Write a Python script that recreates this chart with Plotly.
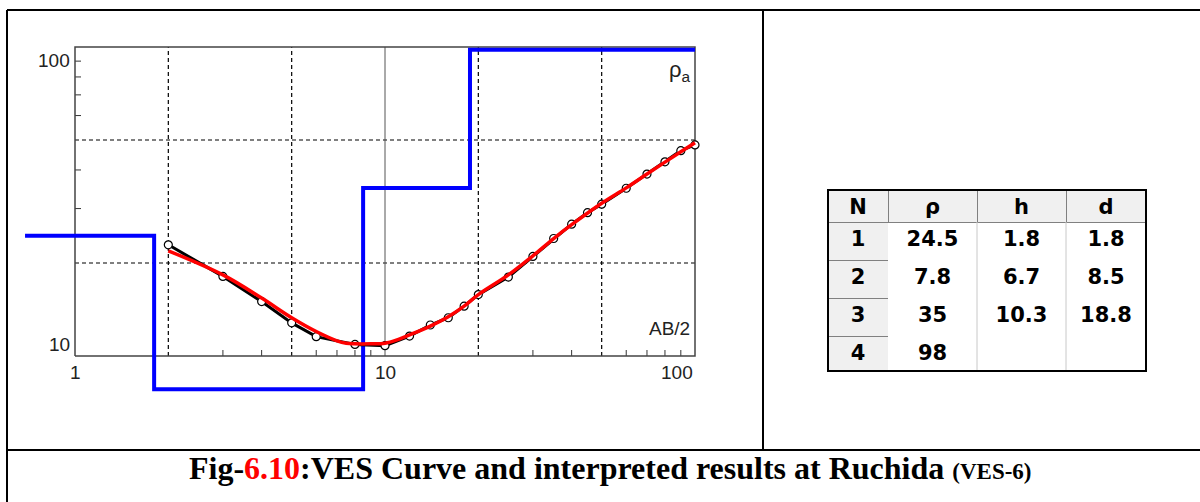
import numpy as np
import plotly.graph_objects as go

# Datos de campo (AB/2 en m, resistividad aparente en ohm.m)
ab2 = [2, 3, 4, 5, 6, 8, 10, 12, 14, 16, 18, 20, 25, 30, 35, 40, 45, 50, 60, 70, 80, 90, 100]
rho_obs = [22.9, 18.1, 15.0, 12.8, 11.55, 10.9, 10.8, 11.6, 12.6, 13.3, 14.5, 15.8, 18.0, 21.0,
           24.0, 26.7, 29.1, 31.0, 34.9, 38.8, 42.5, 46.2, 48.2]

# Curva calculada (roja)
ab2_calc = [2, 3, 4, 5, 6, 7, 7.5, 8, 9, 10, 11, 12, 14, 16, 18, 20, 25, 30, 35, 40, 50, 60, 70, 80, 90, 100]
rho_calc = [21.9, 18.3, 15.4, 13.3, 12.0, 11.2, 11.0, 10.95, 10.95, 11.0, 11.3, 11.7, 12.5, 13.4,
            14.5, 15.8, 18.3, 21.1, 24.0, 26.6, 31.2, 35.0, 38.8, 42.4, 45.8, 49.0]

# Modelo interpretado
capa_n = ["1", "2", "3", "4"]
capa_rho = ["24.5", "7.8", "35", "98"]
capa_h = ["1.8", "6.7", "10.3", ""]
capa_d = ["1.8", "8.5", "18.8", ""]
modelo_x = [0.69, 1.8, 8.5, 18.8, 100]
modelo_rho = [24.5, 7.8, 35, 98, 98]

# rejilla y marcas
grid_x = [2, 5, 20, 50]
grid_y = [20, 50]
ticks_x = [3, 4, 6, 7, 8, 9, 30, 40, 60, 70, 80, 90]
ticks_y = [30, 40, 60, 70, 80, 90]

W, H = 1200, 502
# escala: 310 px por década en x, 309 px en y
xr = [-75 / 310, (W - 75) / 310]
yr = [1 - (H - 356) / 309, 2 + 47 / 309]
tx_len = 10 ** (6 / 309)   # 6 px en escala log
ty_len = 10 ** (6 / 310)


def segmentos(pares):
    xs, ys = [], []
    for (x0, y0), (x1, y1) in pares:
        xs += [x0, x1, None]
        ys += [y0, y1, None]
    return xs, ys


fig = go.Figure()

# rejilla punteada
gx, gy = segmentos([((v, 10), (v, 100)) for v in grid_x] + [((1, v), (100, v)) for v in grid_y])
fig.add_trace(go.Scatter(x=gx, y=gy, mode='lines', hoverinfo='skip',
                         line=dict(color='black', width=1.2, dash='4px,3px')))
# linea de la década 10
fig.add_trace(go.Scatter(x=[10, 10], y=[10, 100], mode='lines', hoverinfo='skip',
                         line=dict(color='#555555', width=1)))
# marcas
mx, my = segmentos([((v, 10), (v, 10 * tx_len)) for v in ticks_x] +
                   [((1, v), (ty_len, v)) for v in ticks_y])
fig.add_trace(go.Scatter(x=mx, y=my, mode='lines', hoverinfo='skip',
                         line=dict(color='#333333', width=1)))
# marco del gráfico
fig.add_trace(go.Scatter(x=[1, 100, 100, 1, 1], y=[10, 10, 100, 100, 10], mode='lines',
                         hoverinfo='skip', line=dict(color='#444444', width=1.5)))

# modelo (azul)
fig.add_trace(go.Scatter(x=modelo_x, y=modelo_rho, mode='lines', line_shape='hv',
                         line=dict(color='#0000ff', width=4)))
# datos observados
fig.add_trace(go.Scatter(x=ab2, y=rho_obs, mode='lines+markers',
                         line=dict(color='black', width=3),
                         marker=dict(symbol='circle', size=8, color='white',
                                     line=dict(color='black', width=1.2))))
# curva calculada
fig.add_trace(go.Scatter(x=ab2_calc, y=rho_calc, mode='lines', line_shape='spline',
                         line=dict(color='#ff0000', width=3.5)))

# tabla
fuente_tabla = dict(family='DejaVu Sans', size=21, color='black', weight='bold')
fig.add_trace(go.Table(
    domain=dict(x=[828 / W, 1146 / W], y=[1 - 371 / H, 1 - 190 / H]),
    columnwidth=[60, 89, 89, 80],
    header=dict(values=["N", "ρ", "h", "d"], height=32,
                fill_color='#f0f0f0', line=dict(color='#808080', width=1),
                font=fuente_tabla, align='center'),
    cells=dict(values=[capa_n, capa_rho, capa_h, capa_d], height=38,
               fill_color=[['#f0f0f0'] * 4, ['white'] * 4, ['white'] * 4, ['white'] * 4],
               line=dict(color=['#808080', 'white', 'white', 'white'], width=1),
               font=fuente_tabla, align='center')
))

# marco de la figura
marco = dict(color='black', width=2)
shapes = [
    dict(type='line', xref='paper', yref='paper', x0=7 / W, x1=1, y0=1 - 10 / H, y1=1 - 10 / H, line=marco),
    dict(type='line', xref='paper', yref='paper', x0=7 / W, x1=7 / W, y0=0, y1=1 - 10 / H, line=marco),
    dict(type='line', xref='paper', yref='paper', x0=7 / W, x1=1, y0=1 - 450 / H, y1=1 - 450 / H, line=marco),
    dict(type='line', xref='paper', yref='paper', x0=763 / W, x1=763 / W, y0=1 - 450 / H, y1=1 - 10 / H, line=marco),
]
# bordes de la tabla
for sx in [977, 1066]:
    shapes.append(dict(type='line', xref='paper', yref='paper', x0=sx / W, x1=sx / W,
                       y0=1 - 371 / H, y1=1 - 222 / H, line=dict(color='#c8c8c8', width=1)))
shapes.append(dict(type='rect', xref='paper', yref='paper', x0=828 / W, x1=1146 / W,
                   y0=1 - 371 / H, y1=1 - 190 / H, line=dict(color='black', width=2)))

fuente = dict(family='Liberation Sans', size=19, color='#222222')
ann = [
    dict(x=0, y=2, xref='x', yref='y', text='100', xanchor='right', yanchor='middle',
         xshift=-3, yshift=-13, showarrow=False, font=fuente),
    dict(x=0, y=1, xref='x', yref='y', text='10', xanchor='right', yanchor='middle',
         xshift=-3, yshift=12, showarrow=False, font=fuente),
    dict(x=0, y=1, xref='x', yref='y', text='1', xanchor='center', yanchor='top',
         yshift=-4, showarrow=False, font=fuente),
    dict(x=1, y=1, xref='x', yref='y', text='10', xanchor='center', yanchor='top',
         yshift=-4, showarrow=False, font=fuente),
    dict(x=2, y=1, xref='x', yref='y', text='100', xanchor='right', yanchor='top',
         yshift=-4, showarrow=False, font=fuente),
    dict(x=2, y=2, xref='x', yref='y', text='ρ<sub>a</sub>', xanchor='right', yanchor='top',
         xshift=-2, yshift=-8, showarrow=False, font=dict(family='Liberation Sans', size=22, color='#222222')),
    dict(x=2, y=1, xref='x', yref='y', text='AB/2', xanchor='right', yanchor='bottom',
         xshift=-3, yshift=15, showarrow=False, font=fuente),
    dict(x=610 / W, y=1 - 468 / H, xref='paper', yref='paper', showarrow=False, yanchor='middle',
         text="<b>Fig-<span style='color:#ff0000'>6.10</span>:VES Curve and interpreted results at Ruchida "
              "<span style='font-size:23px'>(VES-6)</span></b>",
         font=dict(family='Liberation Serif', size=32, color='black')),
]

fig.update_layout(
    width=W, height=H, margin=dict(l=0, r=0, t=0, b=0),
    paper_bgcolor='white', plot_bgcolor='white',
    xaxis=dict(type='log', range=xr, domain=[0, 1], visible=False, fixedrange=True),
    yaxis=dict(type='log', range=yr, domain=[0, 1], visible=False, fixedrange=True),
    shapes=shapes, annotations=ann, showlegend=False
)

fig.write_html("out.html", config={'displayModeBar': False},
               post_script="document.body.style.margin='0';")
